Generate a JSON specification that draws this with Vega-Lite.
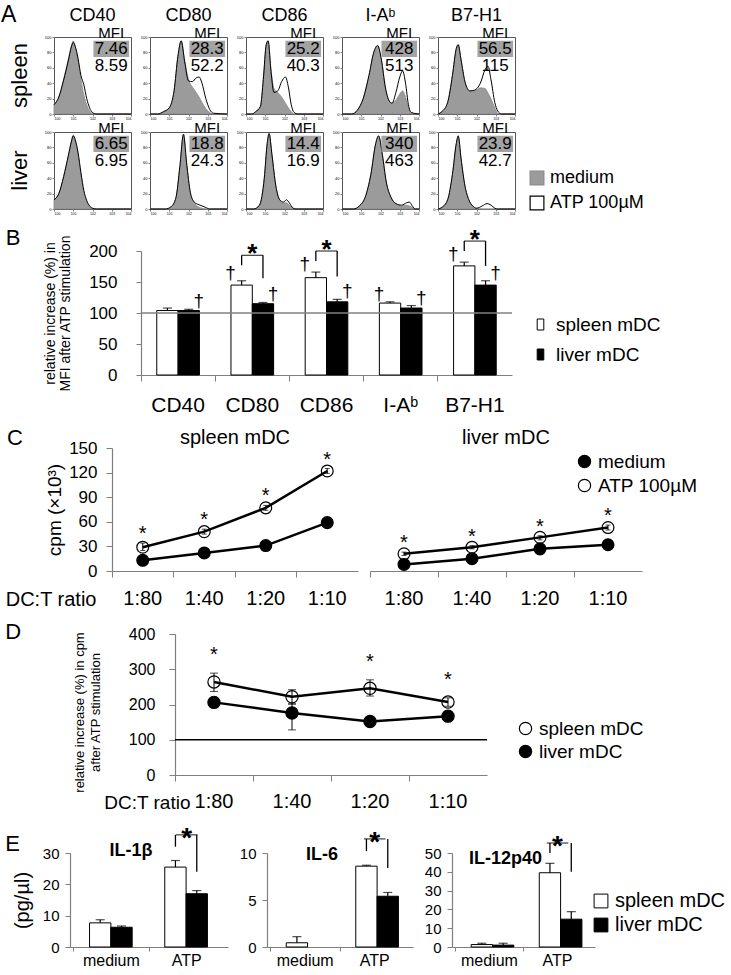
{
"$schema": "https://vega.github.io/schema/vega-lite/v6.json",
"background": "white",
"padding": {"left": 0, "top": 4, "right": 0, "bottom": 0},
"config": {
  "font": "Liberation Sans",
  "view": {"stroke": null},
  "axis": {"domainColor": "#7f7f7f", "tickColor": "#7f7f7f", "labelColor": "#000", "titleColor": "#000", "grid": false, "labelFont": "Liberation Sans", "titleFont": "Liberation Sans", "titleFontWeight": "normal", "domainWidth": 1.2, "labelOverlap": false},
  "legend": {"labelFont": "Liberation Sans", "labelColor": "#000", "padding": 0, "title": null},
  "title": {"font": "Liberation Sans", "fontWeight": "normal", "color": "#000", "fontSize": 22},
  "header": {"labelFont": "Liberation Sans", "labelColor": "#000"},
  "text": {"color": "black"}
},
"spacing": 12,
"resolve": {"scale": {"fill": "independent", "stroke": "independent"}},
"datasets": {
  "hist": [
    {"k":"t","m":"CD40","o":"spleen","p":"7.46","q":"8.59"},
    {"k":"t","m":"CD80","o":"spleen","p":"28.3","q":"52.2"},
    {"k":"t","m":"CD86","o":"spleen","p":"25.2","q":"40.3"},
    {"k":"t","m":"I-Aᵇ","o":"spleen","p":"428","q":"513"},
    {"k":"t","m":"B7-H1","o":"spleen","p":"56.5","q":"115"},
    {"k":"t","m":"CD40","o":"liver","p":"6.65","q":"6.95"},
    {"k":"t","m":"CD80","o":"liver","p":"18.8","q":"24.3"},
    {"k":"t","m":"CD86","o":"liver","p":"14.4","q":"16.9"},
    {"k":"t","m":"I-Aᵇ","o":"liver","p":"340","q":"463"},
    {"k":"t","m":"B7-H1","o":"liver","p":"23.9","q":"42.7"},
    {"k":"h","m":"CD40","o":"spleen","x":0,"a":12,"b":12},
    {"k":"h","m":"CD40","o":"spleen","x":0.25,"a":22,"b":22},
    {"k":"h","m":"CD40","o":"spleen","x":0.5,"a":45,"b":44},
    {"k":"h","m":"CD40","o":"spleen","x":0.75,"a":72,"b":70},
    {"k":"h","m":"CD40","o":"spleen","x":0.9,"a":88,"b":87},
    {"k":"h","m":"CD40","o":"spleen","x":1.0,"a":95,"b":93},
    {"k":"h","m":"CD40","o":"spleen","x":1.1,"a":88,"b":88},
    {"k":"h","m":"CD40","o":"spleen","x":1.25,"a":70,"b":72},
    {"k":"h","m":"CD40","o":"spleen","x":1.4,"a":45,"b":50},
    {"k":"h","m":"CD40","o":"spleen","x":1.55,"a":25,"b":38},
    {"k":"h","m":"CD40","o":"spleen","x":1.7,"a":12,"b":20},
    {"k":"h","m":"CD40","o":"spleen","x":1.85,"a":4,"b":8},
    {"k":"h","m":"CD40","o":"spleen","x":2.0,"a":1,"b":2},
    {"k":"h","m":"CD40","o":"spleen","x":2.2,"a":0,"b":0},
    {"k":"h","m":"CD40","o":"spleen","x":4,"a":0,"b":0},
    {"k":"h","m":"CD40","o":"liver","x":0,"a":12,"b":12},
    {"k":"h","m":"CD40","o":"liver","x":0.25,"a":20,"b":20},
    {"k":"h","m":"CD40","o":"liver","x":0.5,"a":42,"b":42},
    {"k":"h","m":"CD40","o":"liver","x":0.75,"a":70,"b":70},
    {"k":"h","m":"CD40","o":"liver","x":0.9,"a":88,"b":87},
    {"k":"h","m":"CD40","o":"liver","x":1.0,"a":96,"b":95},
    {"k":"h","m":"CD40","o":"liver","x":1.1,"a":90,"b":90},
    {"k":"h","m":"CD40","o":"liver","x":1.25,"a":72,"b":73},
    {"k":"h","m":"CD40","o":"liver","x":1.4,"a":45,"b":47},
    {"k":"h","m":"CD40","o":"liver","x":1.55,"a":22,"b":24},
    {"k":"h","m":"CD40","o":"liver","x":1.7,"a":10,"b":11},
    {"k":"h","m":"CD40","o":"liver","x":1.85,"a":3,"b":4},
    {"k":"h","m":"CD40","o":"liver","x":2.0,"a":1,"b":1},
    {"k":"h","m":"CD40","o":"liver","x":2.2,"a":0,"b":0},
    {"k":"h","m":"CD40","o":"liver","x":4,"a":0,"b":0},
    {"k":"h","m":"CD80","o":"spleen","x":0,"a":0,"b":0},
    {"k":"h","m":"CD80","o":"spleen","x":0.4,"a":0,"b":0},
    {"k":"h","m":"CD80","o":"spleen","x":0.7,"a":3,"b":3},
    {"k":"h","m":"CD80","o":"spleen","x":1.0,"a":8,"b":8},
    {"k":"h","m":"CD80","o":"spleen","x":1.25,"a":30,"b":30},
    {"k":"h","m":"CD80","o":"spleen","x":1.45,"a":75,"b":75},
    {"k":"h","m":"CD80","o":"spleen","x":1.62,"a":95,"b":95},
    {"k":"h","m":"CD80","o":"spleen","x":1.8,"a":70,"b":68},
    {"k":"h","m":"CD80","o":"spleen","x":2.0,"a":45,"b":43},
    {"k":"h","m":"CD80","o":"spleen","x":2.2,"a":35,"b":42},
    {"k":"h","m":"CD80","o":"spleen","x":2.4,"a":28,"b":47},
    {"k":"h","m":"CD80","o":"spleen","x":2.55,"a":22,"b":48},
    {"k":"h","m":"CD80","o":"spleen","x":2.7,"a":15,"b":40},
    {"k":"h","m":"CD80","o":"spleen","x":2.9,"a":7,"b":20},
    {"k":"h","m":"CD80","o":"spleen","x":3.1,"a":2,"b":6},
    {"k":"h","m":"CD80","o":"spleen","x":3.3,"a":0,"b":1},
    {"k":"h","m":"CD80","o":"spleen","x":4,"a":0,"b":0},
    {"k":"h","m":"CD80","o":"liver","x":0,"a":0,"b":0},
    {"k":"h","m":"CD80","o":"liver","x":0.8,"a":0,"b":0},
    {"k":"h","m":"CD80","o":"liver","x":1.1,"a":3,"b":3},
    {"k":"h","m":"CD80","o":"liver","x":1.35,"a":15,"b":15},
    {"k":"h","m":"CD80","o":"liver","x":1.55,"a":55,"b":55},
    {"k":"h","m":"CD80","o":"liver","x":1.74,"a":97,"b":97},
    {"k":"h","m":"CD80","o":"liver","x":1.9,"a":60,"b":60},
    {"k":"h","m":"CD80","o":"liver","x":2.1,"a":20,"b":21},
    {"k":"h","m":"CD80","o":"liver","x":2.3,"a":8,"b":9},
    {"k":"h","m":"CD80","o":"liver","x":2.5,"a":3,"b":6},
    {"k":"h","m":"CD80","o":"liver","x":2.7,"a":1,"b":4},
    {"k":"h","m":"CD80","o":"liver","x":2.9,"a":0,"b":2},
    {"k":"h","m":"CD80","o":"liver","x":3.1,"a":0,"b":0},
    {"k":"h","m":"CD80","o":"liver","x":4,"a":0,"b":0},
    {"k":"h","m":"CD86","o":"spleen","x":0,"a":0,"b":0},
    {"k":"h","m":"CD86","o":"spleen","x":0.3,"a":0,"b":0},
    {"k":"h","m":"CD86","o":"spleen","x":0.5,"a":3,"b":3},
    {"k":"h","m":"CD86","o":"spleen","x":0.75,"a":10,"b":10},
    {"k":"h","m":"CD86","o":"spleen","x":0.9,"a":45,"b":45},
    {"k":"h","m":"CD86","o":"spleen","x":1.05,"a":90,"b":90},
    {"k":"h","m":"CD86","o":"spleen","x":1.15,"a":95,"b":95},
    {"k":"h","m":"CD86","o":"spleen","x":1.3,"a":58,"b":55},
    {"k":"h","m":"CD86","o":"spleen","x":1.45,"a":33,"b":28},
    {"k":"h","m":"CD86","o":"spleen","x":1.65,"a":28,"b":30},
    {"k":"h","m":"CD86","o":"spleen","x":1.85,"a":22,"b":42},
    {"k":"h","m":"CD86","o":"spleen","x":2.05,"a":14,"b":48},
    {"k":"h","m":"CD86","o":"spleen","x":2.2,"a":8,"b":35},
    {"k":"h","m":"CD86","o":"spleen","x":2.35,"a":3,"b":12},
    {"k":"h","m":"CD86","o":"spleen","x":2.5,"a":0,"b":2},
    {"k":"h","m":"CD86","o":"spleen","x":2.7,"a":0,"b":0},
    {"k":"h","m":"CD86","o":"spleen","x":4,"a":0,"b":0},
    {"k":"h","m":"CD86","o":"liver","x":0,"a":0,"b":0},
    {"k":"h","m":"CD86","o":"liver","x":0.4,"a":0,"b":0},
    {"k":"h","m":"CD86","o":"liver","x":0.7,"a":5,"b":5},
    {"k":"h","m":"CD86","o":"liver","x":0.95,"a":40,"b":40},
    {"k":"h","m":"CD86","o":"liver","x":1.1,"a":85,"b":85},
    {"k":"h","m":"CD86","o":"liver","x":1.2,"a":98,"b":98},
    {"k":"h","m":"CD86","o":"liver","x":1.35,"a":70,"b":70},
    {"k":"h","m":"CD86","o":"liver","x":1.55,"a":30,"b":30},
    {"k":"h","m":"CD86","o":"liver","x":1.75,"a":12,"b":12},
    {"k":"h","m":"CD86","o":"liver","x":1.95,"a":8,"b":9},
    {"k":"h","m":"CD86","o":"liver","x":2.1,"a":8,"b":12},
    {"k":"h","m":"CD86","o":"liver","x":2.25,"a":5,"b":8},
    {"k":"h","m":"CD86","o":"liver","x":2.45,"a":1,"b":1},
    {"k":"h","m":"CD86","o":"liver","x":2.6,"a":0,"b":0},
    {"k":"h","m":"CD86","o":"liver","x":4,"a":0,"b":0},
    {"k":"h","m":"I-Aᵇ","o":"spleen","x":0,"a":0,"b":0},
    {"k":"h","m":"I-Aᵇ","o":"spleen","x":0.5,"a":0,"b":0},
    {"k":"h","m":"I-Aᵇ","o":"spleen","x":0.8,"a":5,"b":5},
    {"k":"h","m":"I-Aᵇ","o":"spleen","x":1.1,"a":20,"b":20},
    {"k":"h","m":"I-Aᵇ","o":"spleen","x":1.4,"a":50,"b":50},
    {"k":"h","m":"I-Aᵇ","o":"spleen","x":1.65,"a":80,"b":80},
    {"k":"h","m":"I-Aᵇ","o":"spleen","x":1.85,"a":89,"b":89},
    {"k":"h","m":"I-Aᵇ","o":"spleen","x":2.05,"a":70,"b":70},
    {"k":"h","m":"I-Aᵇ","o":"spleen","x":2.25,"a":35,"b":35},
    {"k":"h","m":"I-Aᵇ","o":"spleen","x":2.45,"a":17,"b":17},
    {"k":"h","m":"I-Aᵇ","o":"spleen","x":2.6,"a":14,"b":14},
    {"k":"h","m":"I-Aᵇ","o":"spleen","x":2.8,"a":18,"b":28},
    {"k":"h","m":"I-Aᵇ","o":"spleen","x":3.0,"a":26,"b":48},
    {"k":"h","m":"I-Aᵇ","o":"spleen","x":3.15,"a":30,"b":56},
    {"k":"h","m":"I-Aᵇ","o":"spleen","x":3.3,"a":22,"b":40},
    {"k":"h","m":"I-Aᵇ","o":"spleen","x":3.45,"a":8,"b":12},
    {"k":"h","m":"I-Aᵇ","o":"spleen","x":3.6,"a":1,"b":2},
    {"k":"h","m":"I-Aᵇ","o":"spleen","x":4,"a":0,"b":0},
    {"k":"h","m":"I-Aᵇ","o":"liver","x":0,"a":0,"b":0},
    {"k":"h","m":"I-Aᵇ","o":"liver","x":0.6,"a":0,"b":0},
    {"k":"h","m":"I-Aᵇ","o":"liver","x":0.9,"a":4,"b":4},
    {"k":"h","m":"I-Aᵇ","o":"liver","x":1.2,"a":15,"b":15},
    {"k":"h","m":"I-Aᵇ","o":"liver","x":1.5,"a":45,"b":45},
    {"k":"h","m":"I-Aᵇ","o":"liver","x":1.75,"a":85,"b":85},
    {"k":"h","m":"I-Aᵇ","o":"liver","x":1.9,"a":95,"b":95},
    {"k":"h","m":"I-Aᵇ","o":"liver","x":2.1,"a":70,"b":70},
    {"k":"h","m":"I-Aᵇ","o":"liver","x":2.3,"a":35,"b":35},
    {"k":"h","m":"I-Aᵇ","o":"liver","x":2.55,"a":15,"b":15},
    {"k":"h","m":"I-Aᵇ","o":"liver","x":2.8,"a":7,"b":7},
    {"k":"h","m":"I-Aᵇ","o":"liver","x":3.1,"a":4,"b":5},
    {"k":"h","m":"I-Aᵇ","o":"liver","x":3.35,"a":5,"b":8},
    {"k":"h","m":"I-Aᵇ","o":"liver","x":3.5,"a":4,"b":9},
    {"k":"h","m":"I-Aᵇ","o":"liver","x":3.65,"a":2,"b":4},
    {"k":"h","m":"I-Aᵇ","o":"liver","x":3.8,"a":0,"b":0},
    {"k":"h","m":"I-Aᵇ","o":"liver","x":4,"a":0,"b":0},
    {"k":"h","m":"B7-H1","o":"spleen","x":0,"a":0,"b":0},
    {"k":"h","m":"B7-H1","o":"spleen","x":0.2,"a":3,"b":3},
    {"k":"h","m":"B7-H1","o":"spleen","x":0.5,"a":15,"b":15},
    {"k":"h","m":"B7-H1","o":"spleen","x":0.75,"a":50,"b":50},
    {"k":"h","m":"B7-H1","o":"spleen","x":0.95,"a":85,"b":85},
    {"k":"h","m":"B7-H1","o":"spleen","x":1.05,"a":90,"b":90},
    {"k":"h","m":"B7-H1","o":"spleen","x":1.2,"a":70,"b":70},
    {"k":"h","m":"B7-H1","o":"spleen","x":1.4,"a":42,"b":42},
    {"k":"h","m":"B7-H1","o":"spleen","x":1.65,"a":30,"b":30},
    {"k":"h","m":"B7-H1","o":"spleen","x":1.9,"a":30,"b":31},
    {"k":"h","m":"B7-H1","o":"spleen","x":2.2,"a":34,"b":40},
    {"k":"h","m":"B7-H1","o":"spleen","x":2.45,"a":33,"b":58},
    {"k":"h","m":"B7-H1","o":"spleen","x":2.6,"a":27,"b":62},
    {"k":"h","m":"B7-H1","o":"spleen","x":2.75,"a":20,"b":45},
    {"k":"h","m":"B7-H1","o":"spleen","x":2.95,"a":8,"b":15},
    {"k":"h","m":"B7-H1","o":"spleen","x":3.1,"a":1,"b":4},
    {"k":"h","m":"B7-H1","o":"spleen","x":3.3,"a":0,"b":0},
    {"k":"h","m":"B7-H1","o":"spleen","x":4,"a":0,"b":0},
    {"k":"h","m":"B7-H1","o":"liver","x":0,"a":0,"b":0},
    {"k":"h","m":"B7-H1","o":"liver","x":0.2,"a":2,"b":2},
    {"k":"h","m":"B7-H1","o":"liver","x":0.5,"a":12,"b":12},
    {"k":"h","m":"B7-H1","o":"liver","x":0.75,"a":45,"b":45},
    {"k":"h","m":"B7-H1","o":"liver","x":0.95,"a":85,"b":85},
    {"k":"h","m":"B7-H1","o":"liver","x":1.05,"a":95,"b":95},
    {"k":"h","m":"B7-H1","o":"liver","x":1.2,"a":65,"b":65},
    {"k":"h","m":"B7-H1","o":"liver","x":1.4,"a":30,"b":30},
    {"k":"h","m":"B7-H1","o":"liver","x":1.6,"a":12,"b":12},
    {"k":"h","m":"B7-H1","o":"liver","x":1.8,"a":4,"b":4},
    {"k":"h","m":"B7-H1","o":"liver","x":2.0,"a":1,"b":1},
    {"k":"h","m":"B7-H1","o":"liver","x":2.3,"a":0,"b":4},
    {"k":"h","m":"B7-H1","o":"liver","x":2.55,"a":0,"b":7},
    {"k":"h","m":"B7-H1","o":"liver","x":2.75,"a":0,"b":5},
    {"k":"h","m":"B7-H1","o":"liver","x":2.95,"a":0,"b":1},
    {"k":"h","m":"B7-H1","o":"liver","x":3.1,"a":0,"b":0},
    {"k":"h","m":"B7-H1","o":"liver","x":4,"a":0,"b":0}
  ],
  "b": [
    {"m":"CD40","s":"spleen mDC","v":104,"hi":108,"dag":0},
    {"m":"CD40","s":"liver mDC","v":104,"hi":106,"dag":1},
    {"m":"CD80","s":"spleen mDC","v":145,"hi":152,"dag":1},
    {"m":"CD80","s":"liver mDC","v":115,"hi":117,"dag":1},
    {"m":"CD86","s":"spleen mDC","v":157,"hi":166,"dag":1},
    {"m":"CD86","s":"liver mDC","v":118,"hi":122,"dag":1},
    {"m":"I-Aᵇ","s":"spleen mDC","v":116,"hi":118,"dag":1},
    {"m":"I-Aᵇ","s":"liver mDC","v":108,"hi":112,"dag":1},
    {"m":"B7-H1","s":"spleen mDC","v":176,"hi":182,"dag":1},
    {"m":"B7-H1","s":"liver mDC","v":145,"hi":152,"dag":1}
  ],
  "bk": [
    {"m":"CD80","s":"spleen mDC","lo":177,"top":193},
    {"m":"CD80","s":"liver mDC","lo":156,"top":193},
    {"m":"CD86","s":"spleen mDC","lo":184,"top":200},
    {"m":"CD86","s":"liver mDC","lo":159,"top":200},
    {"m":"B7-H1","s":"spleen mDC","lo":200,"top":216},
    {"m":"B7-H1","s":"liver mDC","lo":176,"top":216}
  ],
  "c": [
    {"t":"spleen mDC","s":"medium","r":"1:80","v":13},
    {"t":"spleen mDC","s":"medium","r":"1:40","v":22},
    {"t":"spleen mDC","s":"medium","r":"1:20","v":31},
    {"t":"spleen mDC","s":"medium","r":"1:10","v":59},
    {"t":"spleen mDC","s":"ATP 100µM","r":"1:80","v":29,"lo":25,"hi":34},
    {"t":"spleen mDC","s":"ATP 100µM","r":"1:40","v":48,"lo":45,"hi":51},
    {"t":"spleen mDC","s":"ATP 100µM","r":"1:20","v":77,"lo":74,"hi":80},
    {"t":"spleen mDC","s":"ATP 100µM","r":"1:10","v":122,"lo":119,"hi":125},
    {"t":"liver mDC","s":"medium","r":"1:80","v":8},
    {"t":"liver mDC","s":"medium","r":"1:40","v":15},
    {"t":"liver mDC","s":"medium","r":"1:20","v":27},
    {"t":"liver mDC","s":"medium","r":"1:10","v":32},
    {"t":"liver mDC","s":"ATP 100µM","r":"1:80","v":21,"lo":19,"hi":23},
    {"t":"liver mDC","s":"ATP 100µM","r":"1:40","v":29,"lo":27,"hi":31},
    {"t":"liver mDC","s":"ATP 100µM","r":"1:20","v":41,"lo":38,"hi":43},
    {"t":"liver mDC","s":"ATP 100µM","r":"1:10","v":53,"lo":50,"hi":56}
  ],
  "d": [
    {"s":"spleen mDC","r":"1:80","v":264,"lo":237,"hi":289,"st":1},
    {"s":"spleen mDC","r":"1:40","v":222,"lo":201,"hi":242,"st":0},
    {"s":"spleen mDC","r":"1:20","v":246,"lo":224,"hi":270,"st":1},
    {"s":"spleen mDC","r":"1:10","v":207,"lo":195,"hi":219,"st":1},
    {"s":"liver mDC","r":"1:80","v":206},
    {"s":"liver mDC","r":"1:40","v":176,"lo":128,"hi":202},
    {"s":"liver mDC","r":"1:20","v":152},
    {"s":"liver mDC","r":"1:10","v":167}
  ],
  "e": [
    {"c":"IL-1β","x":"medium","s":"spleen mDC","v":7.7,"hi":8.7},
    {"c":"IL-1β","x":"medium","s":"liver mDC","v":6.3,"hi":6.7},
    {"c":"IL-1β","x":"ATP","s":"spleen mDC","v":25.5,"hi":27.6},
    {"c":"IL-1β","x":"ATP","s":"liver mDC","v":17.0,"hi":18.0},
    {"c":"IL-6","x":"medium","s":"spleen mDC","v":0.45,"hi":1.1},
    {"c":"IL-6","x":"ATP","s":"spleen mDC","v":8.6,"hi":8.7},
    {"c":"IL-6","x":"ATP","s":"liver mDC","v":5.4,"hi":5.8},
    {"c":"IL-12p40","x":"medium","s":"spleen mDC","v":1.3,"hi":2.0},
    {"c":"IL-12p40","x":"medium","s":"liver mDC","v":1.0,"hi":2.0},
    {"c":"IL-12p40","x":"ATP","s":"spleen mDC","v":39.5,"hi":44.5},
    {"c":"IL-12p40","x":"ATP","s":"liver mDC","v":14.8,"hi":18.8}
  ],
  "ebk": [
    {"c":"IL-1β","s":"spleen mDC","lo":32,"top":35.8},
    {"c":"IL-1β","s":"liver mDC","lo":24,"top":35.8},
    {"c":"IL-6","s":"spleen mDC","lo":10.2,"top":11.5},
    {"c":"IL-6","s":"liver mDC","lo":8.4,"top":11.5},
    {"c":"IL-12p40","s":"spleen mDC","lo":50,"top":55.3},
    {"c":"IL-12p40","s":"liver mDC","lo":40,"top":55.3}
  ]
},
"vconcat": [
 {
  "spacing": 0,
  "resolve": {"scale": {"fill": "independent", "stroke": "independent"}},
  "hconcat": [
  {"width": 1, "height": 1, "data": {"values": []}, "mark": "point"},
  {
    "data": {"name": "hist"},
    "title": {"text": "A", "anchor": "start", "frame": "bounds", "fontSize": 23, "dx": -8, "dy": 24},
    "bounds": "flush",
    "spacing": {"row": 18, "column": 19},
    "facet": {
      "row": {"field": "o", "type": "nominal", "sort": ["spleen", "liver"], "title": null, "header": {"labelFontSize": 22, "labelPadding": 12, "labelAngle": -90}},
      "column": {"field": "m", "type": "nominal", "sort": ["CD40", "CD80", "CD86", "I-Aᵇ", "B7-H1"], "title": null, "header": {"labelFontSize": 18, "labelPadding": 12}}
    },
    "resolve": {"axis": {"x": "independent", "y": "independent"}},
    "spec": {
      "width": 77, "height": 77,
      "view": {"stroke": "#555"},
      "layer": [
        {
          "transform": [{"filter": "datum.k == 'h'"}],
          "mark": {"type": "area", "interpolate": "monotone", "strokeWidth": 0.8},
          "encoding": {
            "x": {"field": "x", "type": "quantitative", "scale": {"domain": [0, 4], "nice": false}, "axis": {"title": null, "values": [0, 1, 2, 3, 4], "tickCount": 20, "labelFontSize": 3.5, "labelPadding": 0, "tickSize": 2, "domain": false, "labelExpr": "'10' + datum.value"}},
            "y": {"field": "a", "type": "quantitative", "scale": {"domain": [0, 100], "nice": false}, "axis": {"title": null, "values": [0, 20, 40, 60, 80, 100], "tickCount": 20, "labelFontSize": 4, "labelPadding": 1, "tickSize": 2, "domain": false}},
            "fill": {"datum": "medium", "type": "nominal", "scale": {"domain": ["medium", "ATP 100µM"], "range": ["#9b9b9b", "#ffffff"]}, "legend": {"orient": "none", "legendX": 474, "legendY": 132, "symbolType": "square", "symbolSize": 190, "labelFontSize": 18, "rowPadding": 5, "symbolStrokeWidth": 1.2}},
            "stroke": {"datum": "medium", "type": "nominal", "scale": {"domain": ["medium", "ATP 100µM"], "range": ["#8a8a8a", "#000000"]}, "legend": {"orient": "none", "legendX": 474, "legendY": 132, "symbolType": "square", "symbolSize": 190, "labelFontSize": 18, "rowPadding": 5, "symbolStrokeWidth": 1.2}}
          }
        },
        {
          "transform": [{"filter": "datum.k == 'h'"}],
          "mark": {"type": "line", "interpolate": "monotone", "strokeWidth": 1},
          "encoding": {
            "x": {"field": "x", "type": "quantitative"},
            "y": {"field": "b", "type": "quantitative"},
            "stroke": {"datum": "ATP 100µM", "type": "nominal"}
          }
        },
        {
          "transform": [{"filter": "datum.k == 't'"}],
          "mark": {"type": "rect", "color": "#a3a3a3"},
          "encoding": {"x": {"datum": 2.05}, "x2": {"datum": 3.9}, "y": {"datum": 95}, "y2": {"datum": 74}}
        },
        {
          "transform": [{"filter": "datum.k == 't'"}],
          "mark": {"type": "text", "text": "MFI", "fontSize": 15, "baseline": "middle", "color": "black"},
          "encoding": {"x": {"datum": 2.97}, "y": {"datum": 105.5}}
        },
        {
          "transform": [{"filter": "datum.k == 't'"}],
          "mark": {"type": "text", "fontSize": 17, "baseline": "middle", "color": "black"},
          "encoding": {"x": {"datum": 2.97}, "y": {"datum": 84.5}, "text": {"field": "p", "type": "nominal"}}
        },
        {
          "transform": [{"filter": "datum.k == 't'"}],
          "mark": {"type": "text", "fontSize": 17, "baseline": "middle", "color": "black"},
          "encoding": {"x": {"datum": 2.97}, "y": {"datum": 62}, "text": {"field": "q", "type": "nominal"}}
        }
      ]
    }
  }
  ]
 },
 {
  "spacing": 0,
  "resolve": {"scale": {"fill": "independent", "stroke": "independent"}},
  "hconcat": [
  {"width": 5, "height": 1, "data": {"values": []}, "mark": "point"},
  {
    "title": {"text": "B", "anchor": "start", "frame": "bounds", "dx": -38, "dy": 23, "offset": 0},
    "width": 371, "height": 124,
    "encoding": {
      "x": {"field": "m", "type": "nominal", "sort": ["CD40", "CD80", "CD86", "I-Aᵇ", "B7-H1"], "scale": {"paddingInner": 0, "paddingOuter": 0}, "axis": {"title": null, "labelAngle": 0, "labelFontSize": 21, "labelPadding": 13, "bandPosition": 0, "tickSize": 6, "labelOverlap": false}}
    },
    "layer": [
      {
        "data": {"name": "b"},
        "mark": {"type": "bar", "stroke": "black", "strokeWidth": 1},
        "encoding": {
          "xOffset": {"field": "s", "type": "nominal", "scale": {"domain": ["spleen mDC", "liver mDC"], "paddingInner": 0, "paddingOuter": 0.74}},
          "y": {"field": "v", "type": "quantitative", "scale": {"domain": [0, 200], "nice": false}, "axis": {"values": [0, 50, 100, 150, 200], "tickCount": 20, "format": "d", "labelOverlap": false, "title": ["relative increase (%) in", "MFI after ATP stimulation"], "titleFontSize": 14, "titleLineHeight": 15, "labelFontSize": 17, "tickSize": 5, "labelPadding": 19, "titlePadding": 16}},
          "fill": {"field": "s", "type": "nominal", "scale": {"domain": ["spleen mDC", "liver mDC"], "range": ["white", "black"]}, "legend": {"orient": "none", "legendX": 388, "legendY": 62, "symbolType": "M-0.3,-0.5H0.3V0.5H-0.3Z", "symbolSize": 484, "symbolStrokeColor": "black", "symbolStrokeWidth": 1, "labelFontSize": 19, "rowPadding": 8}}
        }
      },
      {
        "data": {"name": "b"},
        "mark": {"type": "rule", "color": "black", "strokeWidth": 1.2},
        "encoding": {
          "xOffset": {"field": "s", "type": "nominal", "scale": {"domain": ["spleen mDC", "liver mDC"], "paddingInner": 0, "paddingOuter": 0.74}},
          "y": {"field": "v", "type": "quantitative"}, "y2": {"field": "hi"}
        }
      },
      {
        "data": {"name": "b"},
        "mark": {"type": "tick", "color": "black", "thickness": 1.2, "size": 9},
        "encoding": {
          "xOffset": {"field": "s", "type": "nominal", "scale": {"domain": ["spleen mDC", "liver mDC"], "paddingInner": 0, "paddingOuter": 0.74}},
          "y": {"field": "hi", "type": "quantitative"}
        }
      },
      {
        "data": {"values": [{}]},
        "mark": {"type": "rule", "color": "#808080", "strokeWidth": 1.5},
        "encoding": {"y": {"datum": 100}, "x": null}
      },
      {
        "data": {"name": "b"},
        "transform": [{"filter": "datum.dag == 1 && datum.s == 'spleen mDC'"}],
        "mark": {"type": "text", "text": "†", "fontSize": 19, "dx": -11, "dy": -8, "baseline": "middle", "color": "black"},
        "encoding": {
          "xOffset": {"field": "s", "type": "nominal", "scale": {"domain": ["spleen mDC", "liver mDC"], "paddingInner": 0, "paddingOuter": 0.74}},
          "y": {"field": "hi", "type": "quantitative"}
        }
      },
      {
        "data": {"name": "b"},
        "transform": [{"filter": "datum.dag == 1 && datum.s == 'liver mDC'"}],
        "mark": {"type": "text", "text": "†", "fontSize": 19, "dx": 10, "dy": -8, "baseline": "middle", "color": "black"},
        "encoding": {
          "xOffset": {"field": "s", "type": "nominal", "scale": {"domain": ["spleen mDC", "liver mDC"], "paddingInner": 0, "paddingOuter": 0.74}},
          "y": {"field": "hi", "type": "quantitative"}
        }
      },
      {
        "data": {"name": "bk"},
        "mark": {"type": "rule", "color": "black", "strokeWidth": 1.3},
        "encoding": {
          "xOffset": {"field": "s", "type": "nominal", "scale": {"domain": ["spleen mDC", "liver mDC"], "paddingInner": 0, "paddingOuter": 0.74}},
          "y": {"field": "lo", "type": "quantitative"}, "y2": {"field": "top"}
        }
      },
      {
        "data": {"name": "bk"},
        "transform": [{"filter": "datum.s == 'spleen mDC'"}],
        "mark": {"type": "tick", "color": "black", "thickness": 1.3, "size": 21.5},
        "encoding": {"y": {"field": "top", "type": "quantitative"}}
      },
      {
        "data": {"name": "bk"},
        "transform": [{"filter": "datum.s == 'spleen mDC'"}],
        "mark": {"type": "text", "text": "*", "fontSize": 26, "fontWeight": "bold", "baseline": "alphabetic", "dy": 7, "color": "black"},
        "encoding": {"y": {"field": "top", "type": "quantitative"}}
      }
    ]
  }
  ]
 },
 {
  "spacing": 0,
  "resolve": {"scale": {"fill": "independent", "stroke": "independent"}},
  "hconcat": [
  {"width": 4, "height": 1, "data": {"values": []}, "mark": "point"},
  {
    "title": {"text": "C", "anchor": "start", "frame": "bounds", "dx": 2, "dy": 26},
    "spacing": 11,
    "resolve": {"scale": {"fill": "independent"}},
    "hconcat": [
      {
        "width": 246, "height": 123,
        "title": {"text": "spleen mDC", "fontSize": 20, "anchor": "middle", "offset": -9},
        "data": {"name": "c"},
        "transform": [{"filter": "datum.t == 'spleen mDC'"}],
        "encoding": {
          "x": {"field": "r", "type": "ordinal", "sort": ["1:80", "1:40", "1:20", "1:10"], "scale": {"type": "band", "paddingInner": 0, "paddingOuter": 0}, "axis": {"title": "DC:T ratio", "titleX": -16, "titleY": 28, "titleAlign": "right", "titleAngle": 0, "titleBaseline": "middle", "titleFontSize": 20, "labelFontSize": 20, "labelAngle": 0, "labelPadding": 11, "bandPosition": 0, "tickSize": 6, "labelOverlap": false}}
        },
        "layer": [
          {
            "mark": {"type": "line", "color": "black", "strokeWidth": 2.5},
            "encoding": {"y": {"field": "v", "type": "quantitative", "scale": {"domain": [0, 150], "nice": false}, "axis": {"values": [0, 30, 60, 90, 120, 150], "tickCount": 20, "format": "d", "labelOverlap": false, "title": "cpm (×10³)", "titleFontSize": 19, "labelFontSize": 17, "tickSize": 6, "labelPadding": 9, "titlePadding": 4}}, "detail": {"field": "s"}}
          },
          {
            "mark": {"type": "point", "shape": "circle", "stroke": "black", "strokeWidth": 1.2, "size": 140, "opacity": 1},
            "encoding": {"y": {"field": "v", "type": "quantitative"}, "fill": {"field": "s", "type": "nominal", "scale": {"domain": ["medium", "ATP 100µM"], "range": ["black", "transparent"]}, "legend": null}}
          },
          {
            "transform": [{"filter": "isValid(datum.hi)"}],
            "mark": {"type": "rule", "color": "black", "strokeWidth": 1},
            "encoding": {"y": {"field": "lo", "type": "quantitative"}, "y2": {"field": "hi"}}
          },
          {
            "transform": [{"filter": "isValid(datum.hi)"}],
            "mark": {"type": "tick", "color": "black", "thickness": 1, "size": 5},
            "encoding": {"y": {"field": "hi", "type": "quantitative"}}
          },
          {
            "transform": [{"filter": "isValid(datum.hi)"}],
            "mark": {"type": "tick", "color": "black", "thickness": 1, "size": 5},
            "encoding": {"y": {"field": "lo", "type": "quantitative"}}
          },
          {
            "transform": [{"filter": "isValid(datum.hi)"}],
            "mark": {"type": "text", "text": "*", "fontSize": 20, "baseline": "alphabetic", "dy": -3, "color": "black"},
            "encoding": {"y": {"field": "hi", "type": "quantitative"}}
          }
        ]
      },
      {
        "width": 272, "height": 123,
        "title": {"text": "liver mDC", "fontSize": 20, "anchor": "middle", "offset": 0},
        "data": {"name": "c"},
        "transform": [{"filter": "datum.t == 'liver mDC'"}],
        "encoding": {
          "x": {"field": "r", "type": "ordinal", "sort": ["1:80", "1:40", "1:20", "1:10"], "scale": {"type": "band", "paddingInner": 0, "paddingOuter": 0}, "axis": {"title": null, "labelFontSize": 20, "labelAngle": 0, "labelPadding": 11, "bandPosition": 0, "tickSize": 6, "labelOverlap": false}}
        },
        "layer": [
          {
            "mark": {"type": "line", "color": "black", "strokeWidth": 2.5},
            "encoding": {"y": {"field": "v", "type": "quantitative", "scale": {"domain": [0, 150], "nice": false}, "axis": null}, "detail": {"field": "s"}}
          },
          {
            "mark": {"type": "point", "shape": "circle", "stroke": "black", "strokeWidth": 1.2, "size": 140, "opacity": 1},
            "encoding": {"y": {"field": "v", "type": "quantitative", "axis": null}, "fill": {"field": "s", "type": "nominal", "scale": {"domain": ["medium", "ATP 100µM"], "range": ["black", "transparent"]}, "legend": {"orient": "none", "legendX": 205, "legendY": 4, "symbolType": "circle", "symbolSize": 150, "symbolStrokeColor": "black", "symbolStrokeWidth": 1.2, "labelFontSize": 19, "rowPadding": 4}}}
          },
          {
            "transform": [{"filter": "isValid(datum.hi)"}],
            "mark": {"type": "rule", "color": "black", "strokeWidth": 1},
            "encoding": {"y": {"field": "lo", "type": "quantitative", "axis": null}, "y2": {"field": "hi"}}
          },
          {
            "transform": [{"filter": "isValid(datum.hi)"}],
            "mark": {"type": "tick", "color": "black", "thickness": 1, "size": 5},
            "encoding": {"y": {"field": "hi", "type": "quantitative", "axis": null}}
          },
          {
            "transform": [{"filter": "isValid(datum.hi)"}],
            "mark": {"type": "tick", "color": "black", "thickness": 1, "size": 5},
            "encoding": {"y": {"field": "lo", "type": "quantitative", "axis": null}}
          },
          {
            "transform": [{"filter": "isValid(datum.hi)"}],
            "mark": {"type": "text", "text": "*", "fontSize": 20, "baseline": "alphabetic", "dy": -3, "color": "black"},
            "encoding": {"y": {"field": "hi", "type": "quantitative", "axis": null}}
          }
        ]
      }
    ]
  }
  ]
 },
 {
  "spacing": 0,
  "resolve": {"scale": {"fill": "independent", "stroke": "independent"}},
  "hconcat": [
  {"width": 5, "height": 1, "data": {"values": []}, "mark": "point"},
  {
    "title": {"text": "D", "anchor": "start", "frame": "bounds", "dx": -68, "offset": -18},
    "width": 312, "height": 141,
    "data": {"name": "d"},
    "encoding": {
      "x": {"field": "r", "type": "ordinal", "sort": ["1:80", "1:40", "1:20", "1:10"], "scale": {"type": "band", "paddingInner": 0, "paddingOuter": 0}, "axis": {"title": "DC:T ratio", "titleX": 15, "titleY": 27, "titleAlign": "right", "titleAngle": 0, "titleBaseline": "middle", "titleFontSize": 19, "labelFontSize": 20, "labelAngle": 0, "labelPadding": 10, "bandPosition": 0, "tickSize": 6, "labelOverlap": false}}
    },
    "layer": [
      {
        "mark": {"type": "line", "color": "black", "strokeWidth": 2.5},
        "encoding": {"y": {"field": "v", "type": "quantitative", "scale": {"domain": [0, 400], "nice": false}, "axis": {"values": [0, 100, 200, 300, 400], "tickCount": 20, "format": "d", "labelOverlap": false, "title": ["relative increase (%) in cpm", "after ATP stimulation"], "titleFontSize": 13, "titleLineHeight": 16, "titleY": 78, "labelFontSize": 16, "tickSize": 6, "labelPadding": 14, "titlePadding": 26}}, "detail": {"field": "s"}}
      },
      {
        "data": {"values": [{}]},
        "mark": {"type": "rule", "color": "black", "strokeWidth": 1.5},
        "encoding": {"y": {"datum": 100}, "x": null}
      },
      {
        "transform": [{"filter": "isValid(datum.hi)"}],
        "mark": {"type": "rule", "color": "black", "strokeWidth": 1},
        "encoding": {"y": {"field": "lo", "type": "quantitative"}, "y2": {"field": "hi"}}
      },
      {
        "transform": [{"filter": "isValid(datum.hi)"}],
        "mark": {"type": "tick", "color": "black", "thickness": 1, "size": 8},
        "encoding": {"y": {"field": "hi", "type": "quantitative"}}
      },
      {
        "transform": [{"filter": "isValid(datum.hi)"}],
        "mark": {"type": "tick", "color": "black", "thickness": 1, "size": 8},
        "encoding": {"y": {"field": "lo", "type": "quantitative"}}
      },
      {
        "mark": {"type": "point", "shape": "circle", "stroke": "black", "strokeWidth": 1.2, "size": 150, "opacity": 1},
        "encoding": {"y": {"field": "v", "type": "quantitative"}, "fill": {"field": "s", "type": "nominal", "scale": {"domain": ["spleen mDC", "liver mDC"], "range": ["transparent", "black"]}, "legend": {"orient": "none", "legendX": 341, "legendY": 85, "symbolType": "circle", "symbolSize": 150, "symbolStrokeColor": "black", "symbolStrokeWidth": 1.2, "labelFontSize": 19, "rowPadding": 3}}}
      },
      {
        "transform": [{"filter": "datum.st == 1"}],
        "mark": {"type": "text", "text": "*", "fontSize": 20, "baseline": "alphabetic", "dy": -12, "color": "black"},
        "encoding": {"y": {"field": "hi", "type": "quantitative"}}
      }
    ]
  }
  ]
 },
 {
  "spacing": 0,
  "resolve": {"scale": {"fill": "independent", "stroke": "independent"}},
  "hconcat": [
  {"width": 5, "height": 1, "data": {"values": []}, "mark": "point"},
  {
    "title": {"text": "E", "anchor": "start", "frame": "bounds", "dx": -7, "dy": 35},
    "spacing": 11,
    "resolve": {"scale": {"fill": "independent"}},
    "hconcat": [
      {
        "width": 158, "height": 94,
        "title": {"text": "IL-1β", "fontSize": 18, "fontWeight": "bold", "anchor": "middle", "dx": -18, "dy": 31, "offset": -4},
        "encoding": {
          "x": {"field": "x", "type": "nominal", "sort": ["medium", "ATP"], "scale": {"paddingInner": 0, "paddingOuter": 0.05}, "axis": {"title": null, "labelAngle": 0, "labelFontSize": 16, "labelPadding": 1, "bandPosition": 0, "tickSize": 4, "labelOverlap": false}}
        },
        "layer": [
          {
            "data": {"name": "e"}, "transform": [{"filter": "datum.c == 'IL-1β'"}],
            "mark": {"type": "bar", "stroke": "black", "strokeWidth": 1},
            "encoding": {
              "xOffset": {"field": "s", "type": "nominal", "scale": {"domain": ["spleen mDC", "liver mDC"], "paddingInner": 0, "paddingOuter": 0.75}},
              "y": {"field": "v", "type": "quantitative", "scale": {"domain": [0, 30], "nice": false}, "axis": {"values": [0, 10, 20, 30], "tickCount": 20, "format": "d", "labelOverlap": false, "title": "(pg/µl)", "titleFontSize": 20, "labelFontSize": 15, "tickSize": 5, "labelPadding": 6, "titlePadding": 10}},
              "fill": {"field": "s", "type": "nominal", "scale": {"domain": ["spleen mDC", "liver mDC"], "range": ["white", "black"]}, "legend": null}
            }
          },
          {
            "data": {"name": "e"}, "transform": [{"filter": "datum.c == 'IL-1β'"}],
            "mark": {"type": "rule", "color": "black", "strokeWidth": 1.2},
            "encoding": {"xOffset": {"field": "s", "type": "nominal", "scale": {"domain": ["spleen mDC", "liver mDC"], "paddingInner": 0, "paddingOuter": 0.75}}, "y": {"field": "v", "type": "quantitative"}, "y2": {"field": "hi"}}
          },
          {
            "data": {"name": "e"}, "transform": [{"filter": "datum.c == 'IL-1β'"}],
            "mark": {"type": "tick", "color": "black", "thickness": 1.2, "size": 9},
            "encoding": {"xOffset": {"field": "s", "type": "nominal", "scale": {"domain": ["spleen mDC", "liver mDC"], "paddingInner": 0, "paddingOuter": 0.75}}, "y": {"field": "hi", "type": "quantitative"}}
          },
          {
            "data": {"name": "ebk"}, "transform": [{"filter": "datum.c == 'IL-1β'"}],
            "mark": {"type": "rule", "color": "black", "strokeWidth": 1.3},
            "encoding": {"x": {"datum": "ATP"}, "xOffset": {"field": "s", "type": "nominal", "scale": {"domain": ["spleen mDC", "liver mDC"], "paddingInner": 0, "paddingOuter": 0.75}}, "y": {"field": "lo", "type": "quantitative"}, "y2": {"field": "top"}}
          },
          {
            "data": {"name": "ebk"}, "transform": [{"filter": "datum.c == 'IL-1β' && datum.s == 'spleen mDC'"}],
            "mark": {"type": "tick", "color": "black", "thickness": 1.3, "size": 21.5},
            "encoding": {"x": {"datum": "ATP"}, "y": {"field": "top", "type": "quantitative"}}
          },
          {
            "data": {"name": "ebk"}, "transform": [{"filter": "datum.c == 'IL-1β' && datum.s == 'spleen mDC'"}],
            "mark": {"type": "text", "text": "*", "fontSize": 28, "fontWeight": "bold", "baseline": "alphabetic", "dy": 12, "color": "black"},
            "encoding": {"x": {"datum": "ATP"}, "y": {"field": "top", "type": "quantitative"}}
          }
        ]
      },
      {
        "width": 146, "height": 94,
        "title": {"text": "IL-6", "fontSize": 18, "fontWeight": "bold", "anchor": "middle", "dx": -18, "dy": 31, "offset": -4},
        "encoding": {
          "x": {"field": "x", "type": "nominal", "sort": ["medium", "ATP"], "scale": {"paddingInner": 0, "paddingOuter": 0.05}, "axis": {"title": null, "labelAngle": 0, "labelFontSize": 16, "labelPadding": 1, "bandPosition": 0, "tickSize": 4, "labelOverlap": false}}
        },
        "layer": [
          {
            "data": {"name": "e"}, "transform": [{"filter": "datum.c == 'IL-6'"}],
            "mark": {"type": "bar", "stroke": "black", "strokeWidth": 1},
            "encoding": {
              "xOffset": {"field": "s", "type": "nominal", "scale": {"domain": ["spleen mDC", "liver mDC"], "paddingInner": 0, "paddingOuter": 0.62}},
              "y": {"field": "v", "type": "quantitative", "scale": {"domain": [0, 10], "nice": false}, "axis": {"values": [0, 5, 10], "tickCount": 20, "format": "d", "labelOverlap": false, "title": null, "labelFontSize": 15, "tickSize": 5, "labelPadding": 6}},
              "fill": {"field": "s", "type": "nominal", "scale": {"domain": ["spleen mDC", "liver mDC"], "range": ["white", "black"]}, "legend": null}
            }
          },
          {
            "data": {"name": "e"}, "transform": [{"filter": "datum.c == 'IL-6'"}],
            "mark": {"type": "rule", "color": "black", "strokeWidth": 1.2},
            "encoding": {"xOffset": {"field": "s", "type": "nominal", "scale": {"domain": ["spleen mDC", "liver mDC"], "paddingInner": 0, "paddingOuter": 0.62}}, "y": {"field": "v", "type": "quantitative"}, "y2": {"field": "hi"}}
          },
          {
            "data": {"name": "e"}, "transform": [{"filter": "datum.c == 'IL-6'"}],
            "mark": {"type": "tick", "color": "black", "thickness": 1.2, "size": 9},
            "encoding": {"xOffset": {"field": "s", "type": "nominal", "scale": {"domain": ["spleen mDC", "liver mDC"], "paddingInner": 0, "paddingOuter": 0.62}}, "y": {"field": "hi", "type": "quantitative"}}
          },
          {
            "data": {"name": "ebk"}, "transform": [{"filter": "datum.c == 'IL-6'"}],
            "mark": {"type": "rule", "color": "black", "strokeWidth": 1.3},
            "encoding": {"x": {"datum": "ATP"}, "xOffset": {"field": "s", "type": "nominal", "scale": {"domain": ["spleen mDC", "liver mDC"], "paddingInner": 0, "paddingOuter": 0.62}}, "y": {"field": "lo", "type": "quantitative"}, "y2": {"field": "top"}}
          },
          {
            "data": {"name": "ebk"}, "transform": [{"filter": "datum.c == 'IL-6' && datum.s == 'spleen mDC'"}],
            "mark": {"type": "tick", "color": "black", "thickness": 1.3, "size": 21.5},
            "encoding": {"x": {"datum": "ATP"}, "y": {"field": "top", "type": "quantitative"}}
          },
          {
            "data": {"name": "ebk"}, "transform": [{"filter": "datum.c == 'IL-6' && datum.s == 'spleen mDC'"}],
            "mark": {"type": "text", "text": "*", "fontSize": 28, "fontWeight": "bold", "baseline": "alphabetic", "dy": 12, "color": "black"},
            "encoding": {"x": {"datum": "ATP"}, "y": {"field": "top", "type": "quantitative"}}
          }
        ]
      },
      {
        "width": 143, "height": 94,
        "title": {"text": "IL-12p40", "fontSize": 18, "fontWeight": "bold", "anchor": "middle", "dx": -18, "dy": 31, "offset": -4},
        "encoding": {
          "x": {"field": "x", "type": "nominal", "sort": ["medium", "ATP"], "scale": {"paddingInner": 0, "paddingOuter": 0.05}, "axis": {"title": null, "labelAngle": 0, "labelFontSize": 16, "labelPadding": 1, "bandPosition": 0, "tickSize": 4, "labelOverlap": false}}
        },
        "layer": [
          {
            "data": {"name": "e"}, "transform": [{"filter": "datum.c == 'IL-12p40'"}],
            "mark": {"type": "bar", "stroke": "black", "strokeWidth": 1},
            "encoding": {
              "xOffset": {"field": "s", "type": "nominal", "scale": {"domain": ["spleen mDC", "liver mDC"], "paddingInner": 0, "paddingOuter": 0.58}},
              "y": {"field": "v", "type": "quantitative", "scale": {"domain": [0, 50], "nice": false}, "axis": {"values": [0, 10, 20, 30, 40, 50], "tickCount": 20, "format": "d", "labelOverlap": false, "title": null, "labelFontSize": 15, "tickSize": 5, "labelPadding": 6}},
              "fill": {"field": "s", "type": "nominal", "scale": {"domain": ["spleen mDC", "liver mDC"], "range": ["white", "black"]}, "legend": {"orient": "none", "legendX": 139, "legendY": 38, "symbolType": "square", "symbolSize": 190, "symbolStrokeColor": "black", "symbolStrokeWidth": 1, "labelFontSize": 20, "rowPadding": 4}}
            }
          },
          {
            "data": {"name": "e"}, "transform": [{"filter": "datum.c == 'IL-12p40'"}],
            "mark": {"type": "rule", "color": "black", "strokeWidth": 1.2},
            "encoding": {"xOffset": {"field": "s", "type": "nominal", "scale": {"domain": ["spleen mDC", "liver mDC"], "paddingInner": 0, "paddingOuter": 0.58}}, "y": {"field": "v", "type": "quantitative"}, "y2": {"field": "hi"}}
          },
          {
            "data": {"name": "e"}, "transform": [{"filter": "datum.c == 'IL-12p40'"}],
            "mark": {"type": "tick", "color": "black", "thickness": 1.2, "size": 9},
            "encoding": {"xOffset": {"field": "s", "type": "nominal", "scale": {"domain": ["spleen mDC", "liver mDC"], "paddingInner": 0, "paddingOuter": 0.58}}, "y": {"field": "hi", "type": "quantitative"}}
          },
          {
            "data": {"name": "ebk"}, "transform": [{"filter": "datum.c == 'IL-12p40'"}],
            "mark": {"type": "rule", "color": "black", "strokeWidth": 1.3},
            "encoding": {"x": {"datum": "ATP"}, "xOffset": {"field": "s", "type": "nominal", "scale": {"domain": ["spleen mDC", "liver mDC"], "paddingInner": 0, "paddingOuter": 0.58}}, "y": {"field": "lo", "type": "quantitative"}, "y2": {"field": "top"}}
          },
          {
            "data": {"name": "ebk"}, "transform": [{"filter": "datum.c == 'IL-12p40' && datum.s == 'spleen mDC'"}],
            "mark": {"type": "tick", "color": "black", "thickness": 1.3, "size": 21.5},
            "encoding": {"x": {"datum": "ATP"}, "y": {"field": "top", "type": "quantitative"}}
          },
          {
            "data": {"name": "ebk"}, "transform": [{"filter": "datum.c == 'IL-12p40' && datum.s == 'spleen mDC'"}],
            "mark": {"type": "text", "text": "*", "fontSize": 28, "fontWeight": "bold", "baseline": "alphabetic", "dy": 12, "color": "black"},
            "encoding": {"x": {"datum": "ATP"}, "y": {"field": "top", "type": "quantitative"}}
          }
        ]
      }
    ]
  }
  ]
 }
]
}
